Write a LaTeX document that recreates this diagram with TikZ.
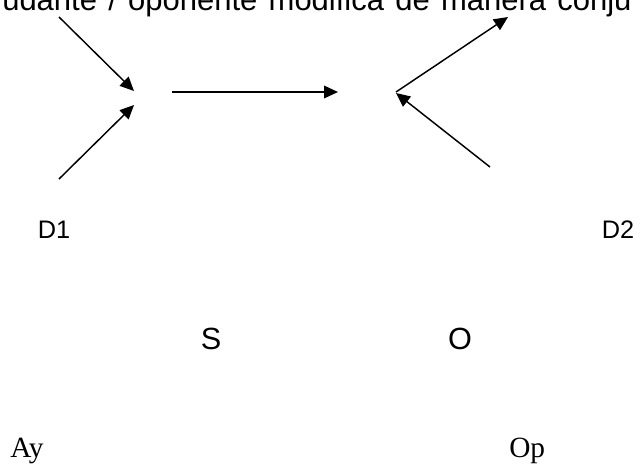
\documentclass[tikz,border=0pt]{standalone}
\usepackage{fontspec}
\setmainfont{Liberation Serif}
\setsansfont{Liberation Sans}
\usetikzlibrary{arrows.meta}

\begin{document}
\begin{tikzpicture}[x=0.75pt,y=-0.75pt]
    \tikzset{%
      act/.style={-{Triangle[length=10.5pt,width=9.5pt]}, line width=1.1pt},
      dlab/.style={font=\sffamily\fontsize{19}{22}\selectfont, inner sep=0pt},
      lab/.style={font=\sffamily\fontsize{23}{27}\selectfont, inner sep=0pt},
      rlab/.style={font=\rmfamily\fontsize{22}{26}\selectfont, inner sep=0pt,
        anchor=base west},
    }
    \useasboundingbox (0,0) rectangle (640,465);
    \node[anchor=base west, inner sep=0pt,
      font=\sffamily\fontsize{23.25}{27}\selectfont] (T) at (2,10)
      {\makebox[472pt][s]{udante / oponente modifica de manera conju}};

    % left fork
    \coordinate (A0) at (59,17);
    \coordinate (A) at (134,91);
    \coordinate (B0) at (59,179);
    \coordinate (B) at (134,105);
    \draw [act] (A0) -- (A);
    \draw [act] (B0) -- (B);

    % middle
    \coordinate (C0) at (172,92);
    \coordinate (C) at (338,92);
    \draw [act] (C0) -- (C);

    % right fork
    \coordinate (D0) at (396,92);
    \coordinate (D) at (508,17);
    \coordinate (E0) at (490,167);
    \coordinate (E) at (396,93);
    \draw [act] (D0) -- (D);
    \draw [act] (E0) -- (E);

    \node[dlab] (D1) at (54,230) {D1};
    \node[dlab] (D2) at (618,230) {D2};
    \node[lab] (S) at (211,339) {S};
    \node[lab] (O) at (460,339) {O};
    \node[rlab] (Ay) at (10,457) {Ay};
    \node[rlab] (Op) at (509,457) {Op};
\end{tikzpicture}
\end{document}
